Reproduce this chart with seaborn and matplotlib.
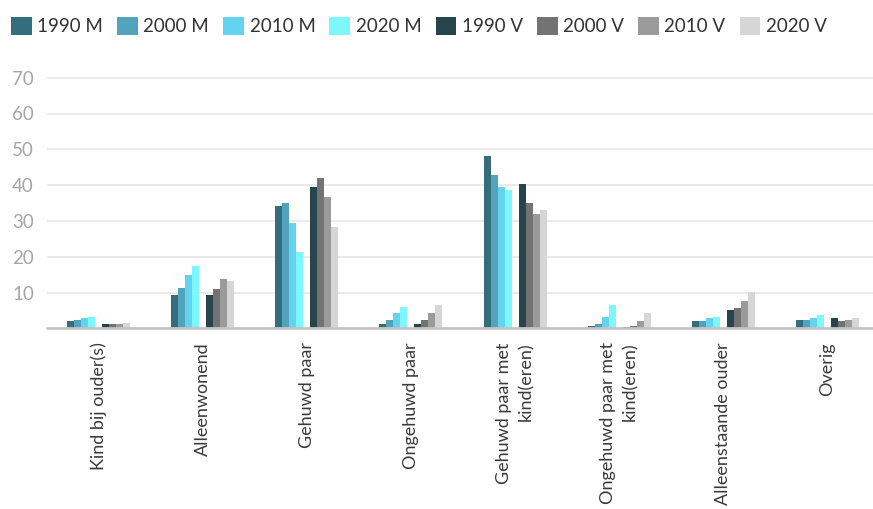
import pandas as pd
import numpy as np
from matplotlib import pyplot as plt
from matplotlib.patches import Patch
import seaborn as sns

sns.set_style('white')
plt.rcParams['font.family'] = ['Lato', 'DejaVu Sans']

# data
categories = ['Kind bij ouder(s)', 'Alleenwonend', 'Gehuwd paar', 'Ongehuwd paar',
              'Gehuwd paar met\nkind(eren)', 'Ongehuwd paar met\nkind(eren)',
              'Alleenstaande ouder', 'Overig']
series = ['1990 M', '2000 M', '2010 M', '2020 M', '1990 V', '2000 V', '2010 V', '2020 V']

m1990 = [2.0, 9.3, 34.2, 1.2, 48.1, 0.6, 2.0, 2.3]
m2000 = [2.3, 11.3, 35.0, 2.3, 42.8, 1.2, 2.0, 2.3]
m2010 = [2.9, 14.9, 29.4, 4.3, 39.5, 3.2, 2.9, 2.9]
m2020 = [3.2, 17.4, 21.3, 6.0, 38.6, 6.5, 3.2, 3.7]
v1990 = [1.2, 9.3, 39.5, 1.2, 40.3, 0.4, 5.1, 2.9]
v2000 = [1.2, 11.0, 42.0, 2.3, 35.0, 0.6, 5.7, 2.0]
v2010 = [1.2, 13.8, 36.7, 4.3, 31.9, 2.0, 7.6, 2.3]
v2020 = [1.5, 13.2, 28.3, 6.5, 33.1, 4.3, 10.1, 2.9]

colors = ['#346e7c', '#52a4bc', '#63d3ef', '#7cf8fd',
          '#27444c', '#737373', '#9b9b9b', '#d6d6d6']

values = [m1990, m2000, m2010, m2020, v1990, v2000, v2010, v2020]
rows = []
for s, vals in zip(series, values):
    for c, v in zip(categories, vals):
        rows.append((c, s, v))
# empty slot between the M and V bars
spacer = ' '
for c in categories:
    rows.append((c, spacer, 0.0))
df = pd.DataFrame(rows, columns=['cat', 'serie', 'waarde'])

hue_order = series[:4] + [spacer] + series[4:]
palette = dict(zip(series, colors))
palette[spacer] = '#ffffff'

fig = plt.figure(figsize=(8.73, 5.09), dpi=100)
H = 509
W = 873
ytop = 70.3
px_per = (328.3 - 77.7) / 70
ax = fig.add_axes([46.5 / W, (H - 328.3) / H, 833 / W, ytop * px_per / H])

sns.barplot(data=df, x='cat', y='waarde', hue='serie', order=categories,
            hue_order=hue_order, palette=palette, width=0.605, linewidth=0,
            saturation=1, legend=False, ax=ax)

ax.set_xlim(-0.5, 7.5)
ax.set_ylim(0, ytop)
ax.set_yticks([10, 20, 30, 40, 50, 60, 70])
ax.grid(axis='y', color='#e6e6e6', linewidth=1.2)
ax.set_axisbelow(True)
ax.axhline(0, color='#c4c4c4', linewidth=2.0, clip_on=False, zorder=3)
for sp in ax.spines.values():
    sp.set_visible(False)
ax.set_xlabel('')
ax.set_ylabel('')
ax.tick_params(axis='y', length=0, pad=9, labelsize=13.5, labelcolor='#a6a6a6')
ax.tick_params(axis='x', length=0, pad=10, labelsize=13, labelcolor='#3a3a3a')
for lab in ax.get_xticklabels():
    lab.set_rotation(90)
    lab.set_ha('center')
    lab.set_va('top')
    lab.set_multialignment('right')
    lab.set_linespacing(1.4)

handles = [Patch(facecolor=c, edgecolor='none') for c in colors]
fig.legend(handles, series, loc='upper left', bbox_to_anchor=(11 / W, 1 - 17 / H),
           ncol=8, frameon=False, fontsize=13.5, handlelength=1.1, handleheight=1.1,
           handletextpad=0.3, columnspacing=0.75, borderpad=0, borderaxespad=0,
           labelcolor='#333333')

fig.savefig('out.png', dpi=100)
